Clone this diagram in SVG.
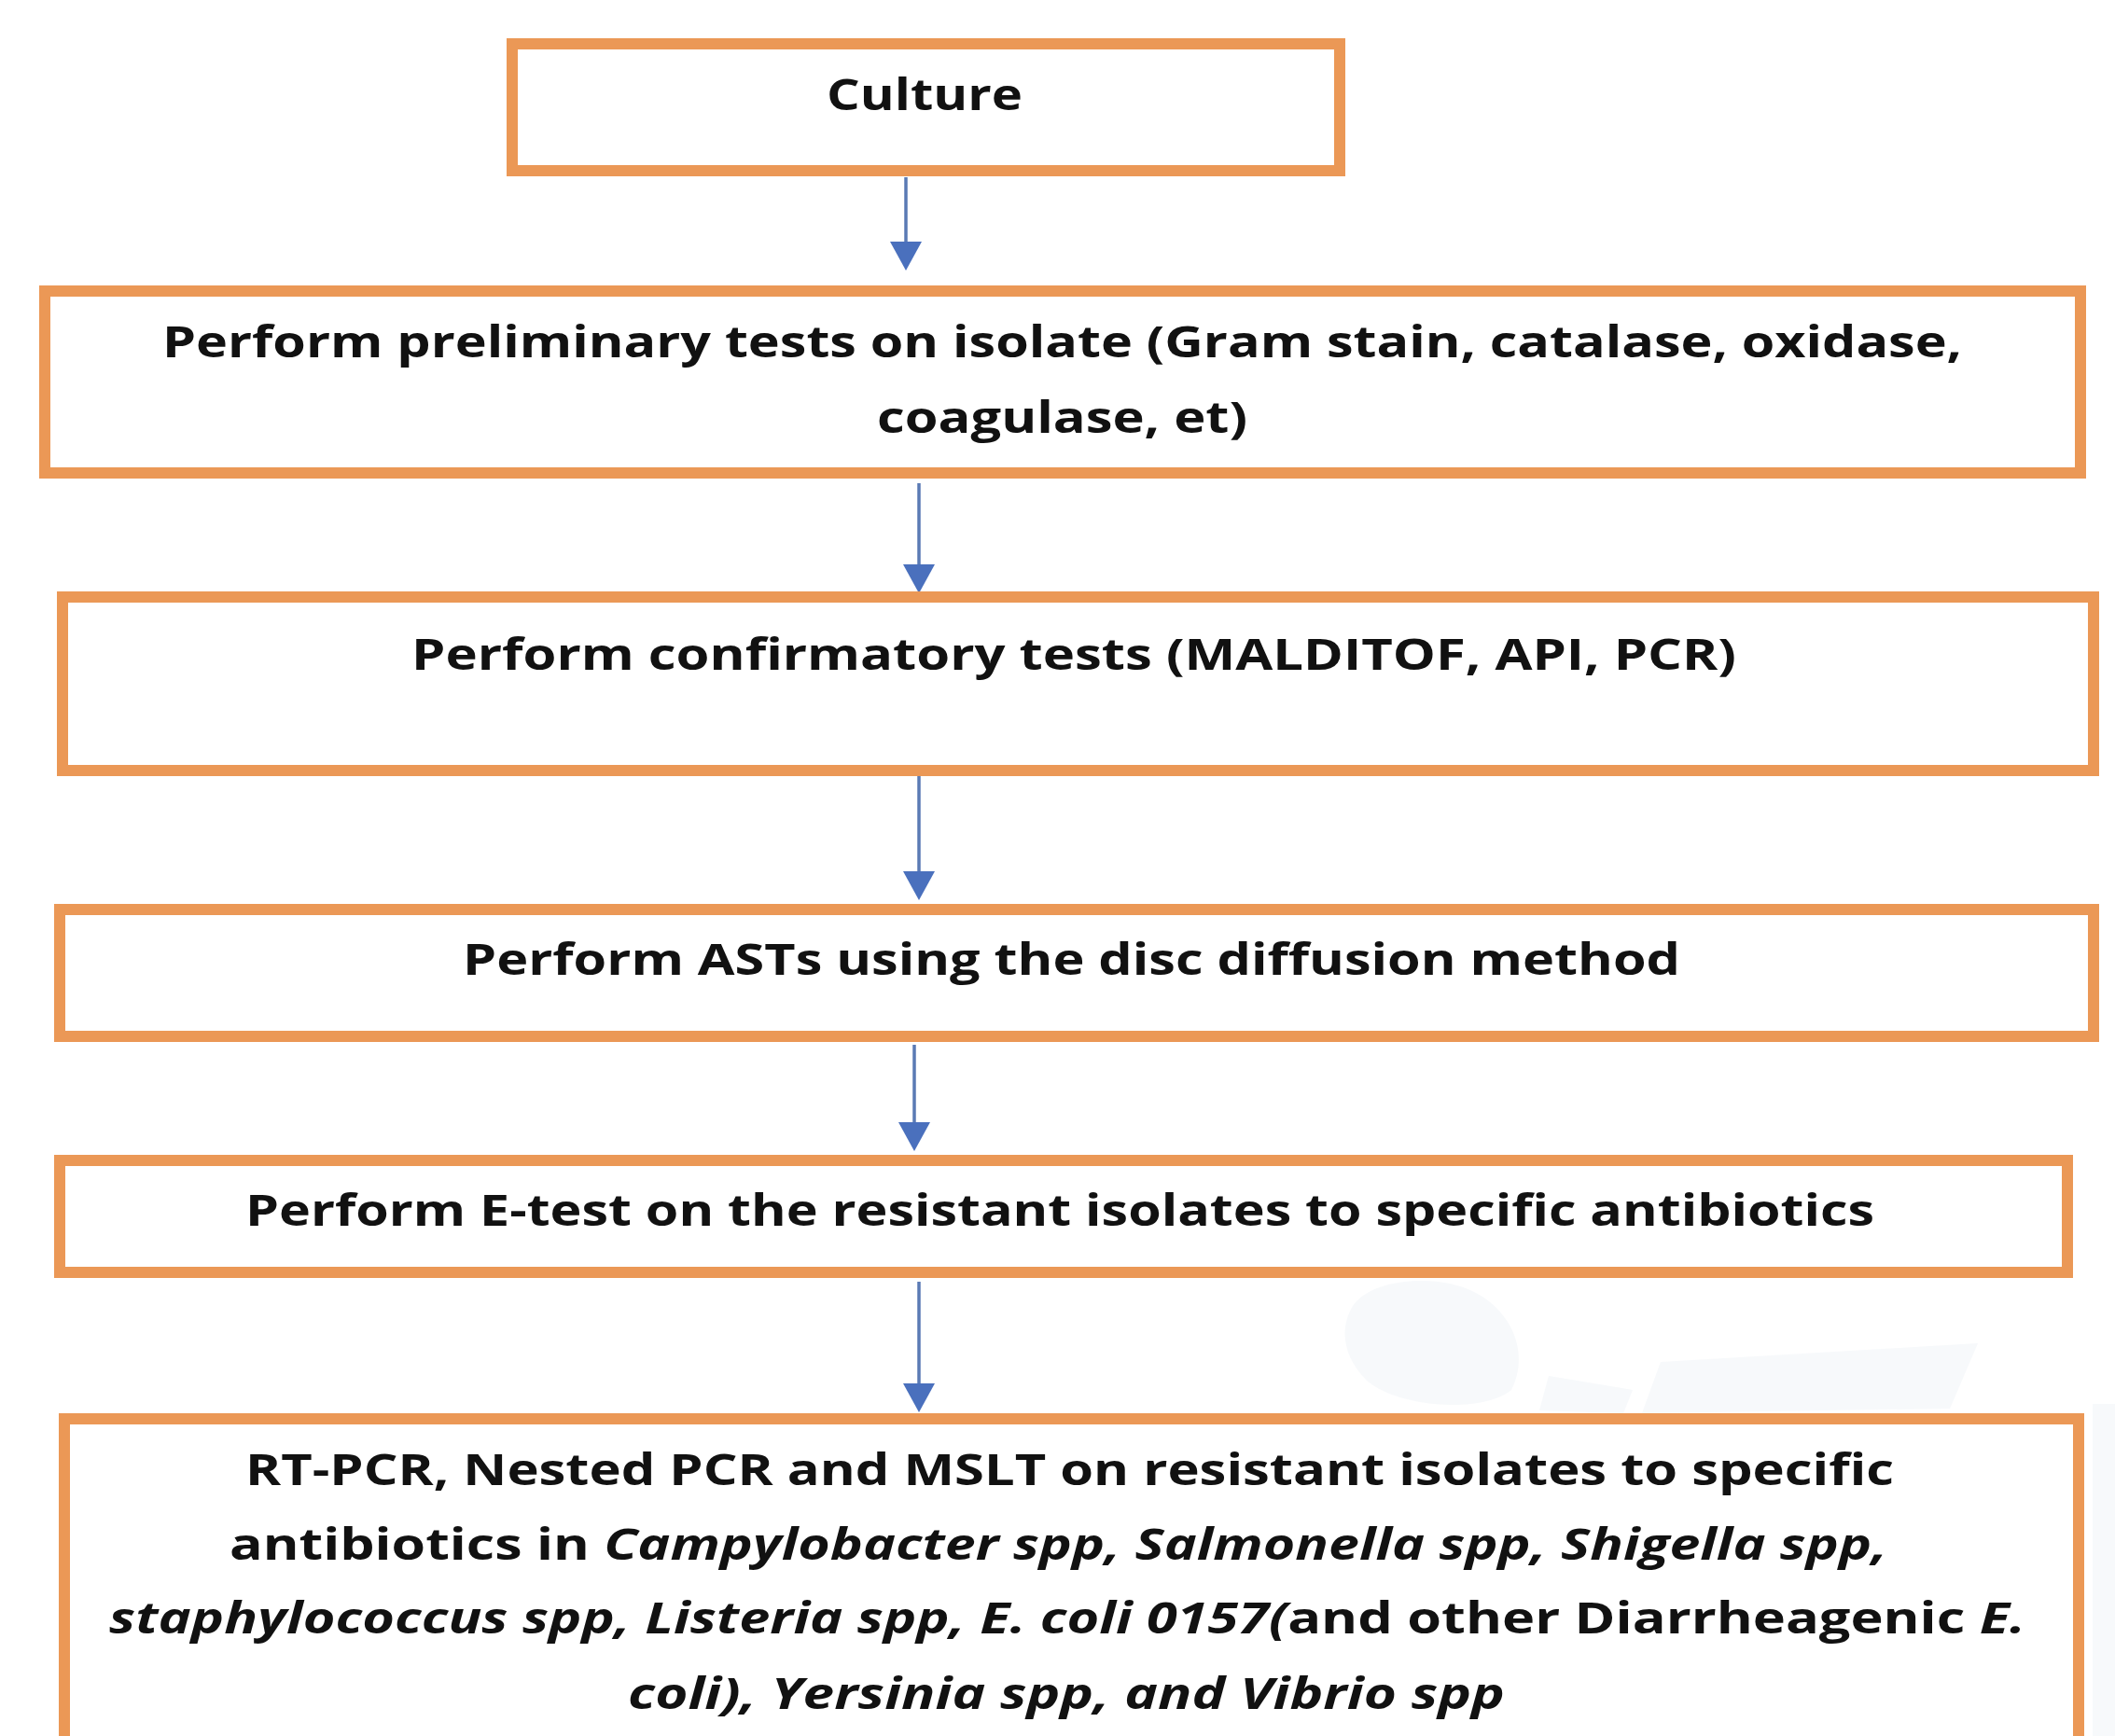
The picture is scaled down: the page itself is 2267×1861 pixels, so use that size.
<svg xmlns="http://www.w3.org/2000/svg" width="2267" height="1861" viewBox="0 0 2267 1861">
  <style>
    .box { fill: #ffffff; stroke: #eb9856; stroke-width: 12; }
    .lbl { font-family: "Open Sans", "Liberation Sans", "DejaVu Sans", sans-serif; font-weight: 700; font-size: 47px; fill: #111111; }
    .it { font-style: italic; }
    .conn { stroke: #5a7ab4; stroke-width: 3.5; fill: none; marker-end: url(#head); }
    .wm { fill: #f4f7fa; }
  </style>
  <defs>
    <marker id="head" markerUnits="userSpaceOnUse" viewBox="0 0 31 34" markerWidth="31" markerHeight="34" refX="0" refY="17" orient="auto">
      <path d="M0,0 L31,17 L0,34 Z" fill="#4a70bd"/>
    </marker>
  </defs>

  <rect width="2267" height="1861" fill="#ffffff"/>

  <!-- faint background artwork -->
  <g id="backdrop" opacity="0.7">
    <path class="wm" d="M1450,1400 C1470,1370 1540,1365 1580,1385 C1620,1405 1640,1450 1620,1490 C1590,1515 1500,1510 1465,1480 C1440,1455 1435,1425 1450,1400 Z"/>
    <path class="wm" d="M1780,1460 L2120,1440 L2090,1510 L1760,1515 Z"/>
    <path class="wm" d="M1660,1475 L1750,1490 L1740,1515 L1650,1512 Z"/>
    <rect class="wm" x="2243" y="1505" width="24" height="356"/>
  </g>

  <!-- connectors -->
  <g id="connectors">
    <line class="conn" x1="971" y1="190" x2="971" y2="259"/>
    <line class="conn" x1="985" y1="518" x2="985" y2="605"/>
    <line class="conn" x1="985" y1="832" x2="985" y2="934"/>
    <line class="conn" x1="980" y1="1120" x2="980" y2="1203"/>
    <line class="conn" x1="985" y1="1374" x2="985" y2="1483"/>
  </g>

  <g id="culture">
    <rect class="box" x="549" y="47" width="887" height="136"/>
    <text class="lbl" x="886" y="118" textLength="210" lengthAdjust="spacingAndGlyphs">Culture</text>
  </g>

  <g id="preliminary-tests">
    <rect class="box" x="48" y="312" width="2182" height="195"/>
    <text class="lbl" x="174" y="383" textLength="1929" lengthAdjust="spacingAndGlyphs">Perform preliminary tests on isolate (Gram stain, catalase, oxidase,</text>
    <text class="lbl" x="940" y="464" textLength="397" lengthAdjust="spacingAndGlyphs">coagulase, et)</text>
  </g>

  <g id="confirmatory-tests">
    <rect class="box" x="67" y="640" width="2177" height="186"/>
    <text class="lbl" x="441" y="718" textLength="1420" lengthAdjust="spacingAndGlyphs">Perform confirmatory tests (MALDITOF, API, PCR)</text>
  </g>

  <g id="ast-disc-diffusion">
    <rect class="box" x="64" y="975" width="2180" height="136"/>
    <text class="lbl" x="496" y="1045" textLength="1305" lengthAdjust="spacingAndGlyphs">Perform ASTs using the disc diffusion method</text>
  </g>

  <g id="e-test">
    <rect class="box" x="64" y="1244" width="2152" height="120"/>
    <text class="lbl" x="263" y="1314" textLength="1746" lengthAdjust="spacingAndGlyphs">Perform E-test on the resistant isolates to specific antibiotics</text>
  </g>

  <g id="molecular-typing">
    <rect class="box" x="69" y="1521" width="2159" height="420"/>
    <text class="lbl" x="263" y="1592" textLength="1767" lengthAdjust="spacingAndGlyphs">RT-PCR, Nested PCR and MSLT on resistant isolates to specific</text>
    <text class="lbl" x="246" y="1672" textLength="1777" lengthAdjust="spacingAndGlyphs">antibiotics in <tspan class="it">Campylobacter spp, Salmonella spp, Shigella spp,</tspan></text>
    <text class="lbl" x="117" y="1751" textLength="2054" lengthAdjust="spacingAndGlyphs"><tspan class="it">staphylococcus spp, Listeria spp, E. coli 0157(</tspan>and other Diarrheagenic <tspan class="it">E.</tspan></text>
    <text class="lbl" x="673" y="1832" textLength="940" lengthAdjust="spacingAndGlyphs"><tspan class="it">coli), Yersinia spp, and Vibrio spp</tspan></text>
  </g>
</svg>
